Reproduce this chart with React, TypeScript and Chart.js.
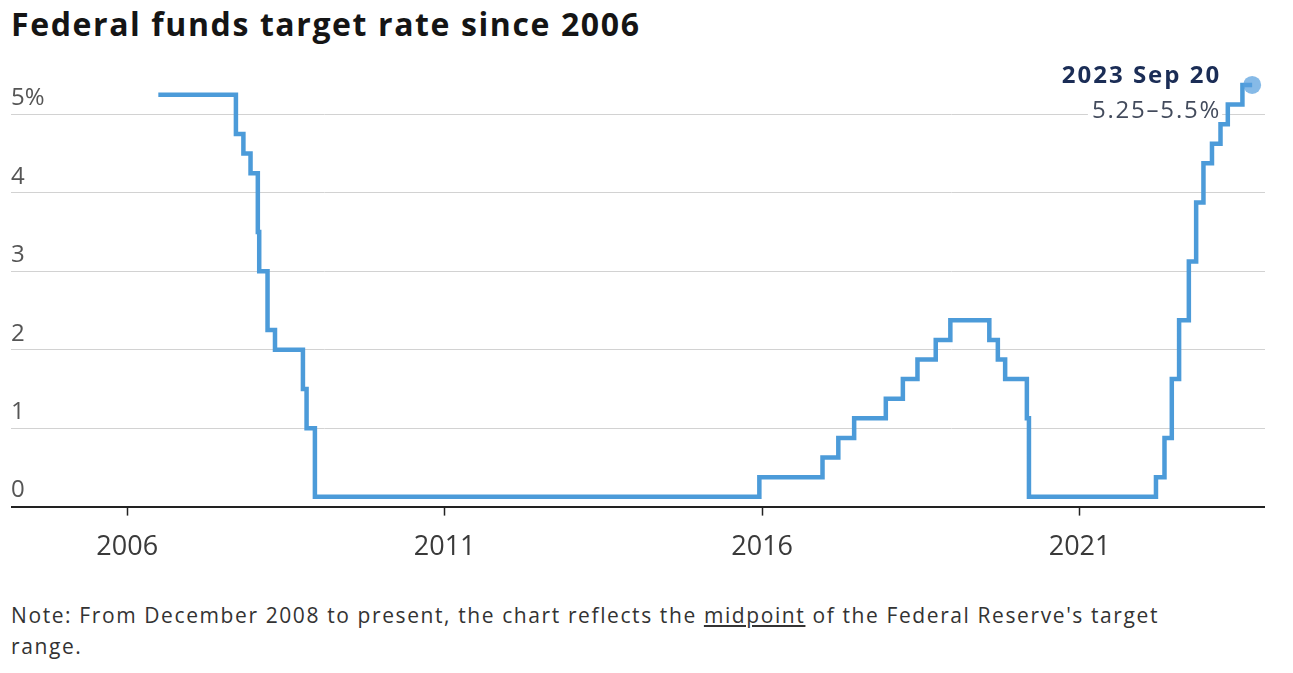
import React, { useEffect, useRef } from "react";
import { Chart, registerables } from "chart.js";

Chart.register(...registerables);

const CHART_TITLE = "Federal funds target rate since 2006";

// Dates on which the target (midpoint from Dec 2008) changed, plus the final date
const RATE_DATES = [
  "2006-06-29", "2007-09-18", "2007-10-31", "2007-12-11", "2008-01-22",
  "2008-01-30", "2008-03-18", "2008-04-30", "2008-10-08", "2008-10-29",
  "2008-12-16", "2015-12-16", "2016-12-14", "2017-03-15", "2017-06-14",
  "2017-12-13", "2018-03-21", "2018-06-13", "2018-09-26", "2018-12-19",
  "2019-07-31", "2019-09-18", "2019-10-30", "2020-03-03", "2020-03-15",
  "2022-03-16", "2022-05-04", "2022-06-15", "2022-07-27", "2022-09-21",
  "2022-11-02", "2022-12-14", "2023-02-01", "2023-03-22", "2023-05-03",
  "2023-07-26", "2023-09-20",
];
const RATE_VALUES = [
  5.25, 4.75, 4.5, 4.25, 3.5,
  3.0, 2.25, 2.0, 1.5, 1.0,
  0.125, 0.375, 0.625, 0.875, 1.125,
  1.375, 1.625, 1.875, 2.125, 2.375,
  2.125, 1.875, 1.625, 1.125, 0.125,
  0.375, 0.875, 1.625, 2.375, 3.125,
  3.875, 4.375, 4.625, 4.875, 5.125,
  5.375, 5.375,
];

const X_TICK_YEARS = [2006, 2011, 2016, 2021];
const Y_TICK_VALUES = [0, 1, 2, 3, 4, 5];
const Y_TICK_LABELS = ["0", "1", "2", "3", "4", "5%"];

const END_LABEL_DATE = "2023 Sep 20";
const END_LABEL_RANGE = "5.25–5.5%";

const X_MIN = 2004.17;
const X_MAX = 2023.92;
const Y_MIN = 0;
const Y_MAX = 5.7;

const FONT = "'Open Sans', 'DejaVu Sans', sans-serif";

function toDecimalYear(iso: string): number {
  const [y, m, d] = iso.split("-").map(Number);
  const start = Date.UTC(y, 0, 1);
  const end = Date.UTC(y + 1, 0, 1);
  return y + (Date.UTC(y, m - 1, d) - start) / (end - start);
}

const endLabelPlugin = {
  id: "endLabel",
  beforeDatasetsDraw(chart: any) {
    const meta = chart.getDatasetMeta(0);
    const pt = meta.data[meta.data.length - 1];
    if (!pt) return;
    const ctx = chart.ctx;
    ctx.save();
    const rightX = pt.x - 31;
    ctx.textAlign = "right";
    ctx.textBaseline = "middle";
    ctx.font = `bold 24px ${FONT}`;
    (ctx as any).letterSpacing = "2px";
    ctx.fillStyle = "#1b2d56";
    ctx.fillText(END_LABEL_DATE, rightX, pt.y - 9);
    ctx.font = `24px ${FONT}`;
    (ctx as any).letterSpacing = "1.8px";
    const w = ctx.measureText(END_LABEL_RANGE).width;
    ctx.fillStyle = "#ffffff";
    ctx.fillRect(rightX - w - 4, pt.y + 26 - 13, w + 5, 26);
    ctx.fillStyle = "#434b5c";
    ctx.fillText(END_LABEL_RANGE, rightX, pt.y + 26);
    ctx.restore();
  },
};

function FedChart() {
  const canvasRef = useRef<HTMLCanvasElement | null>(null);

  useEffect(() => {
    if (!canvasRef.current) return;
    const points = RATE_DATES.map((d, i) => ({ x: toDecimalYear(d), y: RATE_VALUES[i] }));
    const last = points.length - 1;
    const chart = new Chart(canvasRef.current, {
      type: "line",
      data: {
        datasets: [
          {
            data: points,
            stepped: "before",
            borderColor: "#4c9bd9",
            borderWidth: 4.5,
            borderJoinStyle: "miter",
            fill: false,
            clip: false as any,
            pointRadius: (c: any) => (c.dataIndex === last ? 9 : 0),
            pointHoverRadius: 0,
            pointBackgroundColor: "rgba(88,160,222,0.72)",
            pointBorderWidth: 0,
          } as any,
        ],
      },
      options: {
        animation: false,
        responsive: true,
        maintainAspectRatio: false,
        layout: { autoPadding: false, padding: { top: 9, left: 0, right: 0, bottom: 0 } },
        plugins: {
          legend: { display: false },
          tooltip: { enabled: false },
        },
        events: [],
        scales: {
          x: {
            type: "linear",
            min: X_MIN,
            max: X_MAX,
            afterBuildTicks: (s: any) => {
              s.ticks = X_TICK_YEARS.map((v) => ({ value: v }));
            },
            grid: {
              display: true,
              drawOnChartArea: false,
              drawTicks: true,
              tickLength: 9,
              tickWidth: 1.5,
              tickColor: "#222222",
            },
            border: { display: true, color: "#222222", width: 2 },
            ticks: {
              padding: 16,
              color: "#3a3a3a",
              autoSkip: false,
              maxRotation: 0,
              font: { family: FONT, size: 27 },
              callback: (v: any) => String(v),
            },
          },
          y: {
            type: "linear",
            min: Y_MIN,
            max: Y_MAX,
            afterBuildTicks: (s: any) => {
              s.ticks = Y_TICK_VALUES.map((v) => ({ value: v }));
            },
            grid: { color: "#d2d2d2", lineWidth: 1, drawTicks: false },
            border: { display: false },
            ticks: {
              mirror: true,
              padding: 0,
              labelOffset: -16,
              color: "#555555",
              font: { family: FONT, size: 24 },
              callback: (v: any) => {
                const idx = Y_TICK_VALUES.indexOf(Number(v));
                return idx >= 0 ? Y_TICK_LABELS[idx] : "";
              },
            },
          },
        },
      } as any,
      plugins: [endLabelPlugin],
    });
    return () => chart.destroy();
  }, []);

  return <canvas ref={canvasRef} />;
}

export default function App() {
  return (
    <div style={{ position: "relative", width: 1277, height: 657, fontFamily: FONT }}>
      <div
        style={{
          position: "absolute",
          left: 3,
          top: -4,
          fontSize: 32,
          lineHeight: "40px",
          fontWeight: 700,
          letterSpacing: "1.6px",
          color: "#151515",
          whiteSpace: "nowrap",
        }}
      >
        {CHART_TITLE}
      </div>
      <div style={{ position: "absolute", left: 3, top: 37, width: 1254, height: 535 }}>
        <FedChart />
      </div>
      <div
        style={{
          position: "absolute",
          left: 3,
          top: 592,
          fontSize: 21,
          lineHeight: "31px",
          letterSpacing: "1.6px",
          color: "#333333",
          whiteSpace: "nowrap",
        }}
      >
        Note: From December 2008 to present, the chart reflects the{" "}
        <span style={{ textDecoration: "underline" }}>midpoint</span> of the Federal Reserve's target
        <br />
        range.
      </div>
    </div>
  );
}
